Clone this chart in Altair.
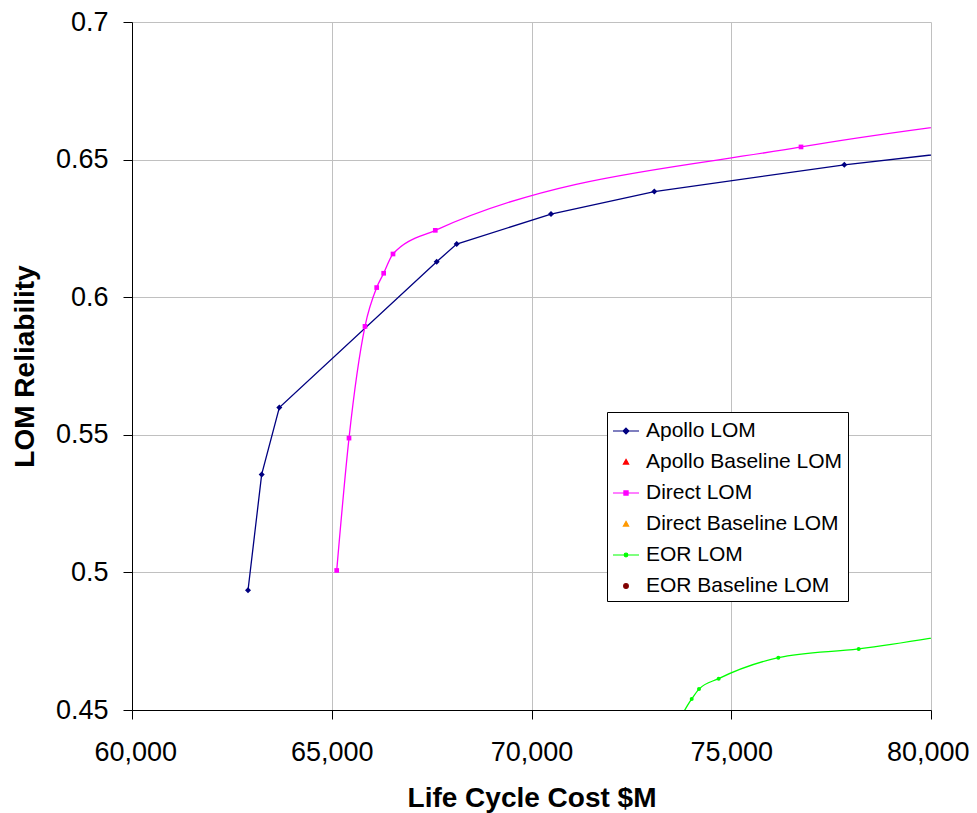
import altair as alt
import pandas as pd

FONT = "Liberation Sans"

# ---- data ----
series_names = ["Apollo LOM", "Apollo Baseline LOM", "Direct LOM",
                "Direct Baseline LOM", "EOR LOM", "EOR Baseline LOM"]
series_colors = ["#000080", "#FF0000", "#FF00FF", "#FF9900", "#00FF00", "#800000"]
line_names = ["Apollo LOM", "Direct LOM", "EOR LOM"]
line_colors = ["#000080", "#FF00FF", "#00FF00"]

apollo_cost = [62904, 63246, 63688, 67627, 68127, 70488, 73074, 77830, 82500]
apollo_rel = [0.4935, 0.5356, 0.5599, 0.6129, 0.6193, 0.6302, 0.6384, 0.6481, 0.6558]

direct_cost = [65124, 65432, 65832, 66125, 66300, 66533, 67592, 76746, 82500]
direct_rel = [0.5007, 0.5488, 0.5894, 0.6035, 0.6087, 0.6157, 0.6243, 0.6546, 0.6663]

eor_cost = [73600, 74010, 74193, 74685, 76178, 78190, 82500]
eor_rel = [0.4440, 0.4540, 0.4576, 0.4614, 0.4690, 0.4722, 0.4825]

x_ticks = [60000, 65000, 70000, 75000, 80000]
y_ticks = [0.45, 0.5, 0.55, 0.6, 0.65, 0.7]

# legend symbols: line + marker for line series, marker only for baselines
legend_paths = [
    "M-1,0H1M0,-0.22L0.22,0L0,0.22L-0.22,0Z",
    "M0,-0.2L0.2,0.16L-0.2,0.16Z",
    "M-1,0H1M-0.16,-0.16H0.16V0.16H-0.16Z",
    "M0,-0.2L0.2,0.16L-0.2,0.16Z",
    "M-1,0H1M-0.14,0A0.14,0.14 0 1,0 0.14,0A0.14,0.14 0 1,0 -0.14,0Z",
    "M-0.18,0A0.18,0.18 0 1,0 0.18,0A0.18,0.18 0 1,0 -0.18,0Z",
]

apollo_df = pd.DataFrame({"cost": apollo_cost, "rel": apollo_rel, "series": "Apollo LOM"})
direct_df = pd.DataFrame({"cost": direct_cost, "rel": direct_rel, "series": "Direct LOM"})
eor_df = pd.DataFrame({"cost": eor_cost, "rel": eor_rel, "series": "EOR LOM"})
smooth_df = pd.concat([direct_df, eor_df], ignore_index=True)
legend_df = pd.DataFrame({"series": series_names})

color_scale = alt.Scale(domain=line_names, range=line_colors)

x_axis = alt.Axis(values=x_ticks, format=",.0f", title="Life Cycle Cost $M",
                  tickSize=9, labelPadding=20, labelFontSize=27,
                  labelFlush=True, labelFlushOffset=38,
                  titleFontSize=28, titleFontWeight="bold",
                  titleY=96, titleBaseline="alphabetic")
y_axis = alt.Axis(values=y_ticks, format="~g", title="LOM Reliability",
                  tickSize=9, labelPadding=15, labelFontSize=27, labelFlush=False,
                  titleFontSize=28, titleFontWeight="bold",
                  titleX=-99, titleBaseline="alphabetic")
x_scale = alt.Scale(domain=[60000, 80000], nice=False, zero=False)
y_scale = alt.Scale(domain=[0.45, 0.7], nice=False, zero=False)
x_enc = alt.X("cost:Q", scale=x_scale, axis=x_axis)
y_enc = alt.Y("rel:Q", scale=y_scale, axis=y_axis)
col_enc = alt.Color("series:N", scale=color_scale, legend=None)

apollo_line = alt.Chart(apollo_df).mark_line(clip=True, strokeWidth=1.3).encode(
    x=x_enc, y=y_enc, color=col_enc)
smooth_line = alt.Chart(smooth_df).mark_line(clip=True, strokeWidth=1.3, interpolate="monotone").encode(
    x=x_enc, y=y_enc, color=col_enc)

apollo_pts = alt.Chart(apollo_df).mark_point(clip=True, filled=True, opacity=1, shape="diamond", size=36).encode(
    x=x_enc, y=y_enc, color=col_enc)
direct_pts = alt.Chart(direct_df).mark_point(clip=True, filled=True, opacity=1, shape="square", size=22).encode(
    x=x_enc, y=y_enc, color=col_enc)
eor_pts = alt.Chart(eor_df).mark_point(clip=True, filled=True, opacity=1, shape="circle", size=16).encode(
    x=x_enc, y=y_enc, color=col_enc)

leg = alt.Legend(title=None, orient="none", legendX=475, legendY=390)
legend_layer = alt.Chart(legend_df).mark_point(filled=True, opacity=1, size=676, strokeWidth=1.2).encode(
    x=alt.value(-500), y=alt.value(-500),
    fill=alt.Fill("series:N", scale=alt.Scale(domain=series_names, range=series_colors), legend=leg),
    stroke=alt.Stroke("series:N", scale=alt.Scale(domain=series_names, range=series_colors), legend=leg),
    shape=alt.Shape("series:N", scale=alt.Scale(domain=series_names, range=legend_paths), legend=leg),
)

chart = alt.layer(apollo_line, smooth_line, apollo_pts, direct_pts, eor_pts, legend_layer).properties(
    width=799, height=688,
    autosize=alt.AutoSizeParams(type="none"),
    padding={"left": 124, "top": 14, "right": 38, "bottom": 103},
    background="white",
).configure_view(
    stroke="transparent"
).configure_axis(
    labelFont=FONT, titleFont=FONT, labelColor="black", titleColor="black",
    gridColor="#C0C0C0", gridWidth=1, domainColor="black", domainWidth=1,
    tickColor="black", tickWidth=1,
).configure_legend(
    strokeColor="black", strokeWidth=1, fillColor="white", padding=5,
    labelFont=FONT, labelFontSize=21, labelColor="black", labelOffset=6,
    labelLimit=400,
    symbolSize=676, symbolStrokeWidth=1.2, symbolOpacity=1, rowPadding=7,
    cornerRadius=0,
)

chart.save("out.html", embed_options={"renderer": "svg", "actions": False})
